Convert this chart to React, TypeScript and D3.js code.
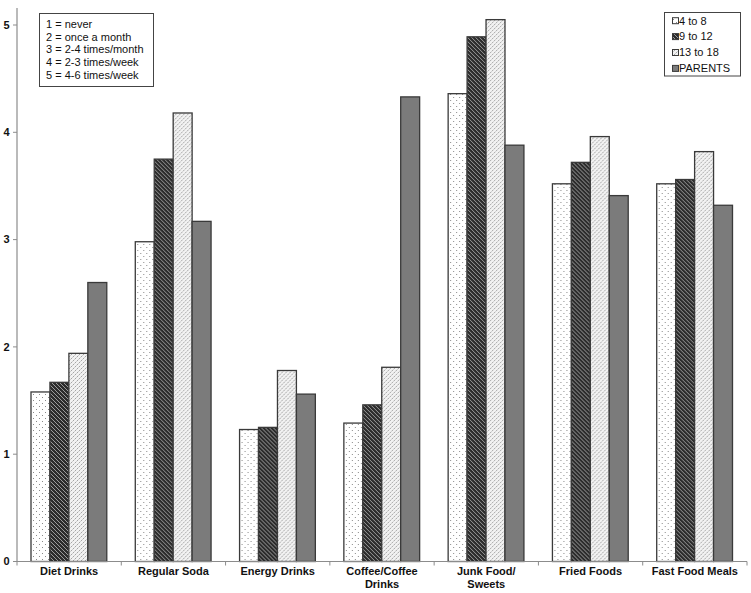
import React from "react";
import * as d3 from "d3";

const categories = [
  "Diet Drinks",
  "Regular Soda",
  "Energy Drinks",
  "Coffee/Coffee Drinks",
  "Junk Food/ Sweets",
  "Fried Foods",
  "Fast Food Meals",
];
const categoryLines = [
  ["Diet Drinks"],
  ["Regular Soda"],
  ["Energy Drinks"],
  ["Coffee/Coffee", "Drinks"],
  ["Junk Food/", "Sweets"],
  ["Fried Foods"],
  ["Fast Food Meals"],
];
const seriesNames = ["4 to 8", "9 to 12", "13 to 18", "PARENTS"];
const age4to8 = [1.58, 2.98, 1.23, 1.29, 4.36, 3.52, 3.52];
const age9to12 = [1.67, 3.75, 1.25, 1.46, 4.89, 3.72, 3.56];
const age13to18 = [1.94, 4.18, 1.78, 1.81, 5.05, 3.96, 3.82];
const parents = [2.6, 3.17, 1.56, 4.33, 3.88, 3.41, 3.32];
const yTicks = [0, 1, 2, 3, 4, 5];
const scaleNotes = [
  "1 = never",
  "2 = once a month",
  "3 = 2-4 times/month",
  "4 = 2-3 times/week",
  "5 = 4-6 times/week",
];

const seriesValues = [age4to8, age9to12, age13to18, parents];
const fills = ["url(#pDots)", "url(#pHatch)", "url(#pConfetti)", "#7b7b7b"];

export default function App() {
  const W = 751;
  const H = 593;
  const left = 17;
  const right = 747;
  const y = d3.scaleLinear().domain([0, 5]).range([561.5, 25]);
  const x = d3.scaleBand<string>().domain(categories).range([left, right]).padding(0);
  const bw = x.bandwidth();
  const inner = d3
    .scaleBand<string>()
    .domain(seriesNames)
    .range([14, bw - 14.5])
    .padding(0);
  const font = "'Liberation Sans', Arial, sans-serif";
  const axisColor = "#8c8c8c";

  return (
    <svg
      width={W}
      height={H}
      style={{ position: "absolute", left: 0, top: 0, background: "#fff" }}
      fontFamily={font}
    >
      <defs>
        <pattern id="pDots" width="6" height="6" patternUnits="userSpaceOnUse">
          <rect width="6" height="6" fill="#ffffff" />
          <rect x="1" y="1" width="1" height="1" fill="#8a8a8a" />
          <rect x="4" y="4" width="1" height="1" fill="#8a8a8a" />
        </pattern>
        <pattern id="pHatch" width="4" height="4" patternUnits="userSpaceOnUse">
          <rect width="4" height="4" fill="#2c2c2c" />
          <path d="M0,0 L4,4 M-1,3 L1,5 M3,-1 L5,1" stroke="#a8a8a8" strokeWidth="0.9" />
        </pattern>
        <pattern id="pConfetti" width="4" height="4" patternUnits="userSpaceOnUse">
          <rect width="4" height="4" fill="#f2f2f2" />
          <rect x="0" y="0" width="1" height="1" fill="#a6a6a6" />
          <rect x="2" y="2" width="1" height="1" fill="#a6a6a6" />
          <rect x="1" y="3" width="1" height="1" fill="#cfcfcf" />
          <rect x="3" y="1" width="1" height="1" fill="#cfcfcf" />
        </pattern>
      </defs>

      {/* bars */}
      {categories.map((c, ci) => (
        <g key={c} transform={`translate(${x(c)},0)`}>
          {seriesNames.map((s, si) => {
            const v = seriesValues[si][ci];
            const x0 = inner(s)!;
            return (
              <rect
                key={s}
                x={x0}
                y={y(v)}
                width={inner.bandwidth()}
                height={y(0) - y(v)}
                fill={fills[si]}
                stroke="#3a3a3a"
                strokeWidth={1.3}
              />
            );
          })}
        </g>
      ))}

      {/* y axis */}
      <line x1={left} x2={left} y1={8} y2={y(0)} stroke={axisColor} strokeWidth={1.2} />
      {yTicks.map((t) => (
        <g key={t}>
          <line x1={left - 4} x2={left} y1={y(t)} y2={y(t)} stroke={axisColor} strokeWidth={1} />
          <text
            x={9.5}
            y={y(t)}
            dy="0.35em"
            textAnchor="end"
            fontSize={11}
            fontWeight="bold"
            fill="#111"
          >
            {t}
          </text>
        </g>
      ))}

      {/* x axis */}
      <line x1={left} x2={right} y1={y(0)} y2={y(0)} stroke={axisColor} strokeWidth={1.2} />
      {[...categories.map((c) => x(c)!), right].map((px, i) => (
        <line key={i} x1={px} x2={px} y1={y(0)} y2={y(0) + 4} stroke={axisColor} strokeWidth={1} />
      ))}
      {categories.map((c, ci) => (
        <text
          key={c}
          x={x(c)! + bw / 2}
          y={575}
          textAnchor="middle"
          fontSize={11}
          fontWeight="bold"
          fill="#111"
        >
          {categoryLines[ci].map((line, li) => (
            <tspan key={li} x={x(c)! + bw / 2} y={575 + li * 12.5}>
              {line}
            </tspan>
          ))}
        </text>
      ))}

      {/* scale legend */}
      <rect x={39.5} y={13.5} width={114} height={73} fill="#fff" stroke="#444" strokeWidth={1} />
      {scaleNotes.map((n, i) => (
        <text key={n} x={46} y={24 + i * 12.8} dy="0.35em" fontSize={11} fill="#111">
          {n}
        </text>
      ))}

      {/* series legend */}
      <rect x={664.5} y={12.5} width={76} height={63.5} fill="#fff" stroke="#444" strokeWidth={1} />
      {seriesNames.map((s, i) => {
        const cy = 20.7 + i * 15.9;
        return (
          <g key={s}>
            <rect
              x={672.5}
              y={cy - 3}
              width={6}
              height={6}
              fill={fills[i]}
              stroke="#3a3a3a"
              strokeWidth={1}
            />
            <text x={679} y={cy} dy="0.35em" fontSize={11} fill="#111">
              {s}
            </text>
          </g>
        );
      })}
    </svg>
  );
}
